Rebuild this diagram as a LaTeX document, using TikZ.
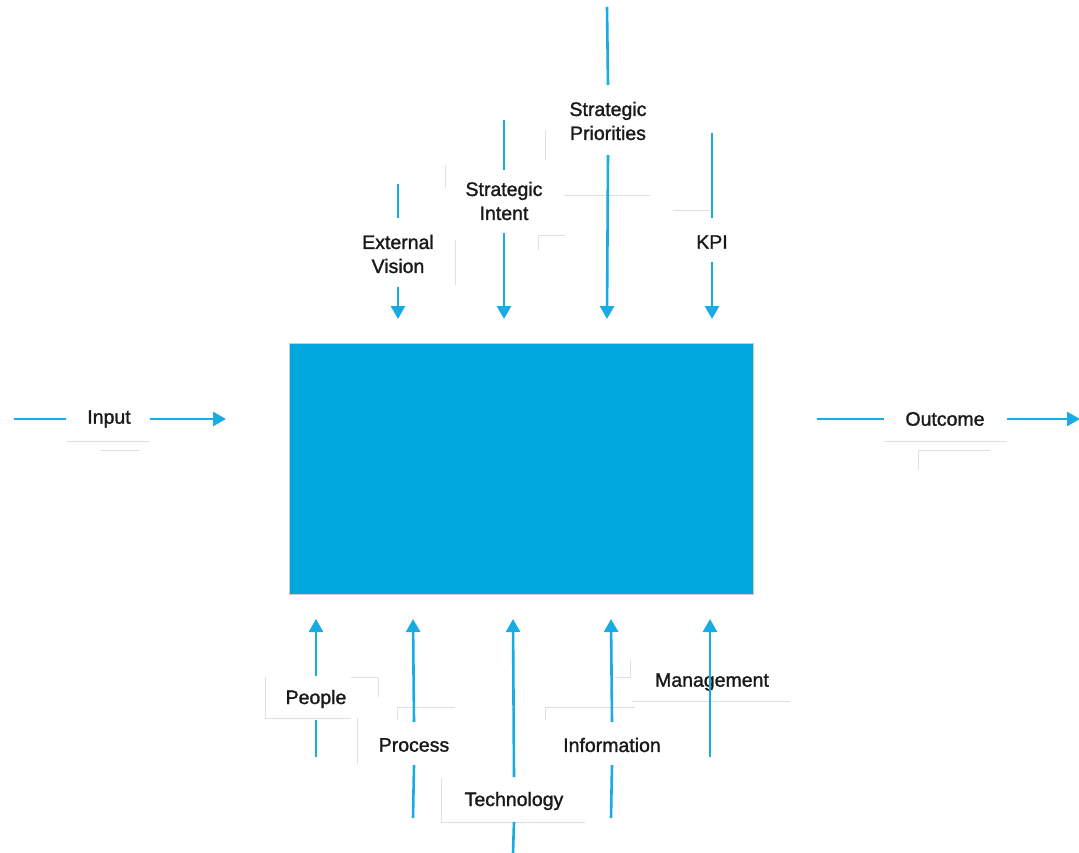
\documentclass[tikz,border=0pt]{standalone}
\usepackage{fontspec}
\setmainfont{Liberation Sans}
\newfontfamily\lblfont{Liberation Sans}[FakeBold=1.4]
\usetikzlibrary{arrows.meta}
\definecolor{flowblue}{RGB}{0,168,222}
\definecolor{linkblue}{RGB}{24,172,226}
\begin{document}
\begin{tikzpicture}[x=1pt,y=-1pt,
  lbl/.style={font=\lblfont\fontsize{19.5}{24}\selectfont, text=black!90, align=center, inner sep=0pt},
  feed/.style={draw=linkblue, line width=2.6pt},
  flow/.style={feed, -{Triangle[length=13pt,width=14pt]}},
  ghost/.style={draw=black!12, line width=0.9pt}]
\useasboundingbox (0,0) rectangle (1079,853);

% central process block
\node[draw=black!20, line width=0.8pt, fill=flowblue, minimum width=464pt, minimum height=251pt, inner sep=0pt] (core) at (521,468.5) {};

% faint label box edges
\draw[ghost] (67,441) -- (150,441) (100,450) -- (140,450);
\draw[ghost] (884,441) -- (1007,441) (918,470) -- (918,450) -- (990,450);
\draw[ghost] (265,677) -- (265,718) -- (351,718) (351,677) -- (378,677) -- (378,697) (357,718) -- (357,764);
\draw[ghost] (397,720) -- (397,707) -- (455,707);
\draw[ghost] (441,778) -- (441,822) -- (585,822);
\draw[ghost] (545,720) -- (545,707) -- (635,707);
\draw[ghost] (632,701) -- (790,701) (615,677) -- (630,677) -- (630,660);
\draw[ghost] (445,165) -- (445,188) (545,130) -- (545,160) (564,195) -- (650,195);
\draw[ghost] (538,250) -- (538,235) -- (565,235) (673,210) -- (710,210) (455,240) -- (455,285);

% labels
\node[lbl] (input) at (109,419) {Input};
\node[lbl] (outcome) at (945,419) {Outcome};
\node[lbl] (extvis) at (398,254) {External\\Vision};
\node[lbl] (intent) at (504,201) {Strategic\\Intent};
\node[lbl] (prio) at (608,121) {Strategic\\Priorities};
\node[lbl] (kpi) at (712,242) {KPI};
\node[lbl] (people) at (316,699) {People};
\node[lbl] (process) at (414,745) {Process};
\node[lbl] (tech) at (514,801) {Technology};
\node[lbl] (info) at (612,745) {Information};
\node[lbl] (mgmt) at (712,682) {Management};

% line ends
\coordinate (inS) at (14,419);
\coordinate (inT) at (226,419);
\coordinate (outS) at (817,419);
\coordinate (outT) at (1080,419);
\coordinate (evS) at (398,184);
\coordinate (evT) at (398,319);
\coordinate (siS) at (504,120);
\coordinate (siT) at (504,319);
\coordinate (spS) at (607,7);
\coordinate (spT) at (607,319);
\coordinate (kpS) at (712,133);
\coordinate (kpT) at (712,319);
\coordinate (peS) at (316,757);
\coordinate (peT) at (316,619);
\coordinate (prS) at (413,818);
\coordinate (prT) at (413,619);
\coordinate (teS) at (513,853);
\coordinate (teT) at (513,619);
\coordinate (ifS) at (611,818);
\coordinate (ifT) at (611,619);
\coordinate (mgS) at (710,757);
\coordinate (mgT) at (710,619);

% horizontal flow
\draw[feed] (inS) -- ([xshift=-43pt]input.center);
\draw[flow] ([xshift=41pt]input.center) -- (inT);
\draw[feed] (outS) -- ([xshift=-61pt]outcome.center);
\draw[flow] ([xshift=62pt]outcome.center) -- (outT);

% controls from above
\draw[feed] (evS) -- ([yshift=36pt]extvis.center);
\draw[flow] ([yshift=-33pt]extvis.center) -- (evT);
\draw[feed] (siS) -- ([yshift=31pt]intent.center);
\draw[flow] ([yshift=-32pt]intent.center) -- (siT);
\draw[feed] (spS) -- ([yshift=36pt]prio.center);
\draw[flow] ([yshift=-34pt]prio.center) -- (spT);
\draw[feed] (kpS) -- ([yshift=24pt]kpi.center);
\draw[flow] ([yshift=-20pt]kpi.center) -- (kpT);

% mechanisms from below
\draw[feed] (peS) -- ([yshift=-21pt]people.center);
\draw[flow] ([yshift=23pt]people.center) -- (peT);
\draw[feed] (prS) -- ([yshift=-20pt]process.center);
\draw[flow] ([yshift=23pt]process.center) -- (prT);
\draw[feed] (teS) -- ([yshift=-21pt]tech.center);
\draw[flow] ([yshift=24pt]tech.center) -- (teT);
\draw[feed] (ifS) -- ([yshift=-20pt]info.center);
\draw[flow] ([yshift=23pt]info.center) -- (ifT);
\draw[flow] (mgS) -- (mgT);
\end{tikzpicture}
\end{document}
